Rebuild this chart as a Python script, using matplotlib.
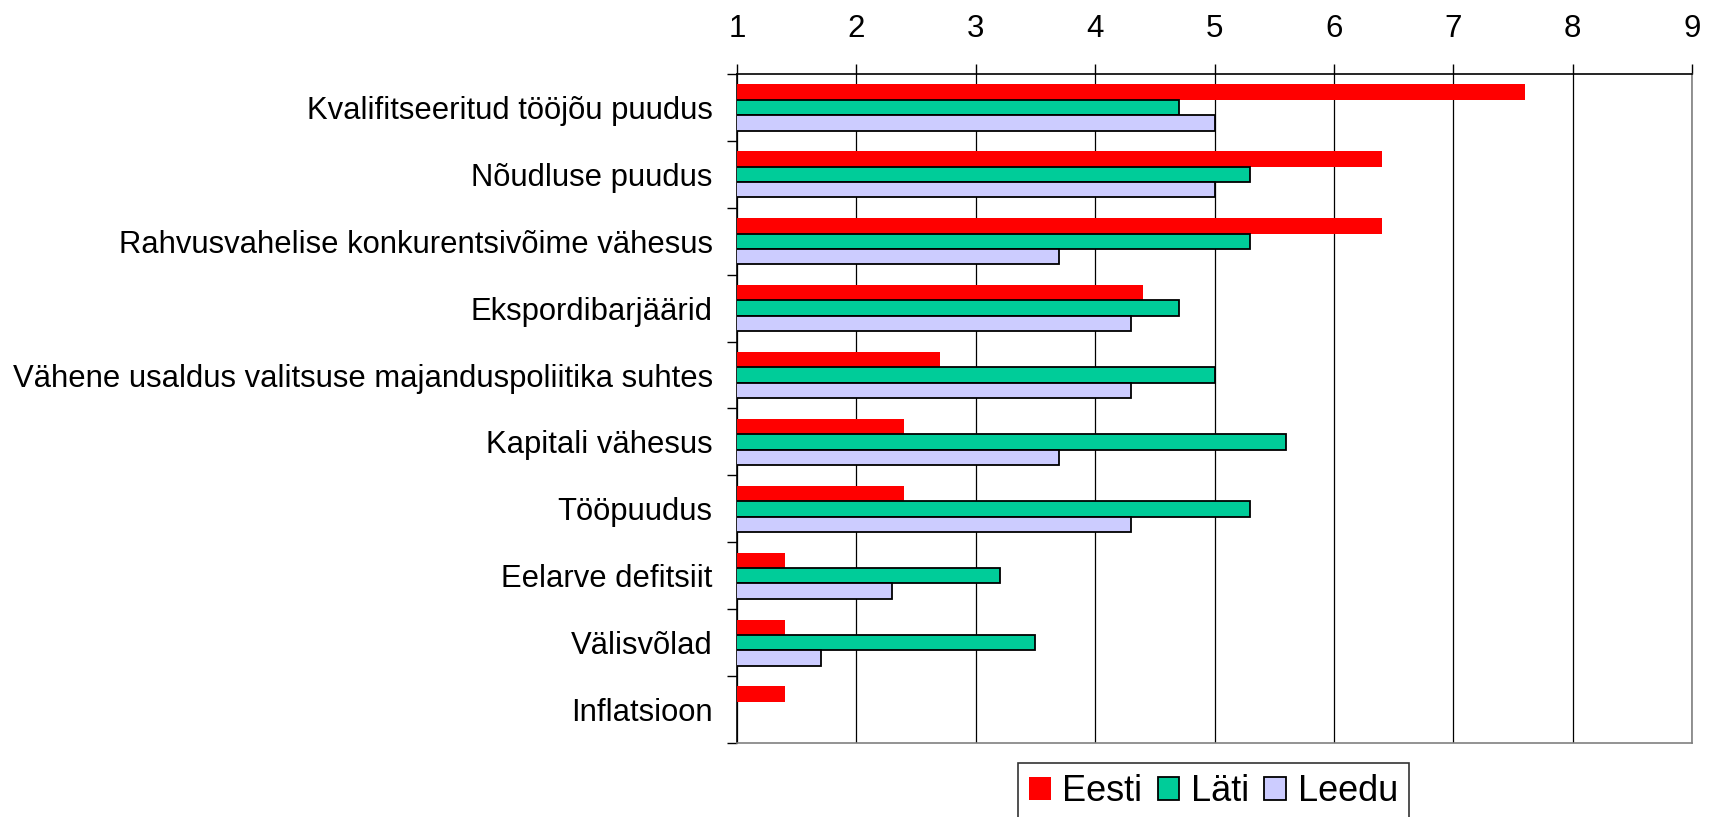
import numpy as np
import matplotlib
matplotlib.use('Agg')
import matplotlib.pyplot as plt
from matplotlib.patches import Patch

# Dados
kategooriad = ['Kvalifitseeritud tööjõu puudus', 'Nõudluse puudus',
               'Rahvusvahelise konkurentsivõime vähesus', 'Ekspordibarjäärid',
               'Vähene usaldus valitsuse majanduspoliitika suhtes', 'Kapitali vähesus',
               'Tööpuudus', 'Eelarve defitsiit', 'Välisvõlad', 'Inflatsioon']
eesti = [7.6, 6.4, 6.4, 4.4, 2.7, 2.4, 2.4, 1.4, 1.4, 1.4]
lati = [4.7, 5.3, 5.3, 4.7, 5.0, 5.6, 5.3, 3.2, 3.5, np.nan]
leedu = [5.0, 5.0, 3.7, 4.3, 4.3, 3.7, 4.3, 2.3, 1.7, np.nan]
seeriad = ['Eesti', 'Läti', 'Leedu']
x_ticks = [1, 2, 3, 4, 5, 6, 7, 8, 9]

plt.rcParams['font.family'] = ['Liberation Sans', 'DejaVu Sans']

fig = plt.figure(figsize=(17.13, 8.17), dpi=100)
ax = fig.add_axes([737 / 1713, 1 - 743 / 817, (1692 - 737) / 1713, (743 - 74) / 817])

pos = np.arange(len(kategooriad))
h = 0.23
ax.barh(pos - h, eesti, height=h, color='#FF0000', edgecolor='none', zorder=3)
ax.barh(pos, lati, height=h, color='#00CC99', edgecolor='black', linewidth=1.3, zorder=3)
ax.barh(pos + h, leedu, height=h, color='#CCCCFF', edgecolor='black', linewidth=1.3, zorder=3)

ax.set_xlim(1, 9)
ax.set_ylim(len(kategooriad) - 0.5, -0.5)

# x-telg ülal
ax.xaxis.tick_top()
ax.set_xticks(x_ticks)
ax.set_xticklabels([str(t) for t in x_ticks])
ax.tick_params(axis='x', which='major', direction='out', length=7.5, width=1,
               pad=14, labelsize=22.5)
ax.grid(axis='x', color='black', linewidth=0.9, zorder=0)
ax.set_axisbelow(True)

# y-telg
ax.set_yticks(pos)
ax.set_yticklabels(kategooriad)
ax.set_yticks(np.arange(-0.5, len(kategooriad), 1), minor=True)
ax.tick_params(axis='y', which='major', length=0, pad=17.5, labelsize=22.3)
ax.tick_params(axis='y', which='minor', length=7.5, width=1, direction='out')

for s in ['top', 'left']:
    ax.spines[s].set_color('black')
    ax.spines[s].set_linewidth(1.2)
for s in ['bottom', 'right']:
    ax.spines[s].set_color('#808080')
    ax.spines[s].set_linewidth(1.2)

handles = [Patch(facecolor='#FF0000', edgecolor='none'),
           Patch(facecolor='#00CC99', edgecolor='black', linewidth=1.3),
           Patch(facecolor='#CCCCFF', edgecolor='black', linewidth=1.3)]
leg = fig.legend(handles, seeriad, loc='upper left',
                 bbox_to_anchor=(1018 / 1713, 1 - 763 / 817), ncol=3,
                 fontsize=26, frameon=True, fancybox=False, shadow=False,
                 handlelength=0.6, handleheight=0.6, handletextpad=0.33,
                 columnspacing=0.42, borderpad=0.3, borderaxespad=0)
leg.get_frame().set_edgecolor('black')
leg.get_frame().set_linewidth(1.2)

plt.savefig('out.png', dpi=100)
